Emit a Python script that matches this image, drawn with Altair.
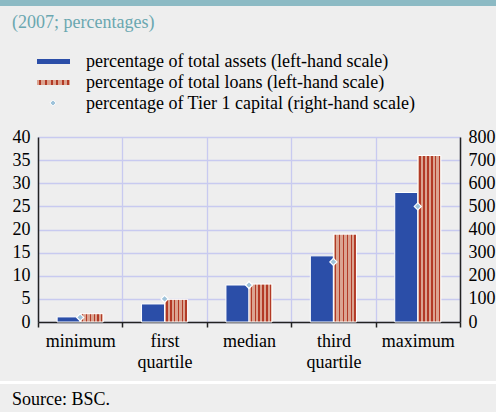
import altair as alt
import pandas as pd

# Distribution statistics (2007)
categories = ["minimum", "first quartile", "median", "third quartile", "maximum"]
pct_total_assets = [1.1, 3.9, 8.0, 14.3, 28.0]      # left-hand scale
pct_total_loans = [1.8, 4.9, 8.2, 19.0, 36.0]       # left-hand scale
pct_tier1_capital = [20, 100, 160, 260, 500]        # right-hand scale

series_names = ["percentage of total assets (left-hand scale)",
                "percentage of total loans (left-hand scale)",
                "percentage of Tier 1 capital (right-hand scale)"]
subtitle = "(2007; percentages)"
source_note = "Source: BSC."
left_ticks = list(range(0, 41, 5))
right_ticks = list(range(0, 801, 100))

FONT = "'Liberation Serif', 'Times New Roman', serif"
FS = 18
BLUE = "#2b4ea8"
RED_DARK = "#b23a26"
RED_LIGHT = "#dba491"
DIAMOND = "#9fc3da"
GRID = "#c8caf0"
TEAL = "#8cbac4"
TEAL_TEXT = "#6aa7b0"
BG = "#eeeeee"

df = pd.DataFrame({
    "category": categories * 2,
    "series": ["assets"] * 5 + ["loans"] * 5,
    "value": pct_total_assets + pct_total_loans,
})
df_assets = df[df.series == "assets"]
df_loans = df[df.series == "loans"]
df_tier1 = pd.DataFrame({"category": categories, "value": pct_tier1_capital})

# vertical stripe fill for the loans bars
stops = [alt.GradientStop(color=RED_LIGHT, offset=0)]
for c in [0.1, 0.27, 0.44, 0.61, 0.78, 0.93]:
    stops += [alt.GradientStop(color=RED_LIGHT, offset=c - 0.03),
              alt.GradientStop(color=RED_DARK, offset=c - 0.03),
              alt.GradientStop(color=RED_DARK, offset=c + 0.03),
              alt.GradientStop(color=RED_LIGHT, offset=c + 0.03)]
stops.append(alt.GradientStop(color=RED_LIGHT, offset=1))
stripes = alt.LinearGradient(gradient="linear", stops=stops, x1=0, x2=1, y1=0, y2=0)

x_enc = alt.X("category:N", sort=categories, title=None,
              scale=alt.Scale(paddingInner=0, paddingOuter=0),
              axis=alt.Axis(labelAngle=0, labelFont=FONT, labelFontSize=FS,
                            labelColor="black", labelExpr="split(datum.label, ' ')",
                            labelLineHeight=21, labelPadding=5, labelBaseline="top",
                            tickBand="extent", ticks=True, tickSize=5, tickColor="#222",
                            tickWidth=1.5, domainColor="#222", domainWidth=1.5,
                            grid=True, gridColor=GRID, gridWidth=1.3))
xoff = alt.XOffset("series:N", sort=["assets", "loans"],
                   scale=alt.Scale(domain=["assets", "loans"], paddingInner=0, paddingOuter=0.83))
y_left = alt.Y("value:Q", title=None,
               scale=alt.Scale(domain=[0, 40], nice=False),
               axis=alt.Axis(values=left_ticks, labelFont=FONT, labelFontSize=FS,
                             labelColor="black", ticks=False, labelPadding=8,
                             domainColor="#222", domainWidth=1.5,
                             grid=True, gridColor=GRID, gridWidth=1.3))

bars_assets = alt.Chart(df_assets).mark_bar(color=BLUE, stroke="white", strokeWidth=1).encode(
    x=x_enc, xOffset=xoff, y=y_left)
bars_loans = alt.Chart(df_loans).mark_bar(fill=stripes, stroke="white", strokeWidth=1).encode(
    x=x_enc, xOffset=xoff, y=y_left)
left = alt.layer(bars_assets, bars_loans)

points = alt.Chart(df_tier1).mark_point(shape="diamond", filled=True, fill=DIAMOND,
                                         stroke="white", strokeWidth=1.2, size=50, opacity=1).encode(
    x=alt.X("category:N", sort=categories),
    y=alt.Y("value:Q", title=None,
            scale=alt.Scale(domain=[0, 800], nice=False),
            axis=alt.Axis(orient="right", values=right_ticks, labelFont=FONT,
                          labelFontSize=FS, labelColor="black", ticks=False,
                          labelPadding=8, domainColor="#222", domainWidth=1.5, grid=False)))

one = alt.Data(values=[{}])

top_band = alt.Chart(one).mark_rect(color=TEAL).encode(
    x=alt.value(-38), x2=alt.value(458), y=alt.value(-137), y2=alt.value(-131))
footer_line = alt.Chart(one).mark_rect(color="white").encode(
    x=alt.value(-38), x2=alt.value(458), y=alt.value(244), y2=alt.value(247))

def text_layer(txt, x, y, color="black"):
    return alt.Chart(one).mark_text(text=txt, font=FONT, fontSize=FS, color=color,
                                    align="left", baseline="middle").encode(
        x=alt.value(x), y=alt.value(y))

title_txt = text_layer(subtitle, -26, -114, TEAL_TEXT)
source_txt = text_layer(source_note, -26, 263)

leg_blue = alt.Chart(one).mark_rect(color=BLUE).encode(
    x=alt.value(-1), x2=alt.value(32), y=alt.value(-78), y2=alt.value(-73))
leg_red = alt.Chart(one).mark_rect(fill=stripes).encode(
    x=alt.value(-1), x2=alt.value(32), y=alt.value(-57), y2=alt.value(-52))
leg_diamond = alt.Chart(one).mark_point(shape="diamond", filled=True, fill=DIAMOND,
                                         stroke="white", strokeWidth=1, size=40, opacity=1).encode(
    x=alt.value(15), y=alt.value(-34))
leg_txt = [text_layer(series_names[0], 48, -75),
           text_layer(series_names[1], 48, -54),
           text_layer(series_names[2], 48, -33)]

chart = alt.layer(left, points).resolve_scale(y="independent")
chart = alt.layer(top_band, footer_line, title_txt, source_txt,
                  leg_blue, leg_red, leg_diamond, *leg_txt, chart).properties(
    width=422, height=185,
    autosize=alt.AutoSizeParams(type="none"),
    padding={"left": 38, "top": 137, "right": 36, "bottom": 90},
).configure(background=BG).configure_view(stroke=None)

chart.save("out.html", embed_options={"renderer": "svg", "actions": False})
